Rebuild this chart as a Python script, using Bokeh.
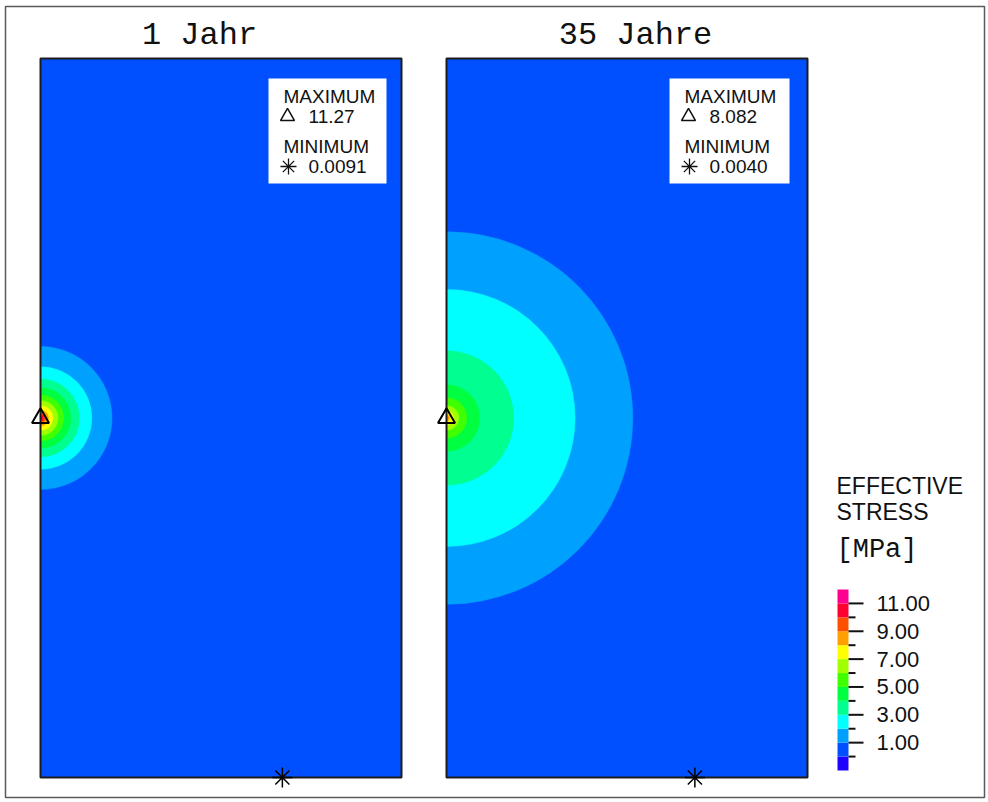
import math
from bokeh.plotting import figure
from bokeh.models import Range1d, ColumnDataSource
from bokeh.core.properties import value
from bokeh.embed import file_html
from bokeh.resources import INLINE

# ---------------- data ----------------
titles = ["1 Jahr", "35 Jahre"]

# colour bands of the scale (lower bound of each band, MPa)
band_low = [-1, 0, 1, 2, 3, 4, 5, 6, 7, 8, 9, 10, 11]
band_colors = ["#2000ff", "#0050ff", "#00a0ff", "#00ffff", "#00ff90", "#00ff40",
               "#40ff00", "#a0ff00", "#ffff00", "#ffa000", "#ff5000", "#ff0030", "#ff0090"]
tick_values = [0, 1, 2, 3, 4, 5, 6, 7, 8, 9, 10, 11]
label_values = [1, 3, 5, 7, 9, 11]
label_texts = ["1.00", "3.00", "5.00", "7.00", "9.00", "11.00"]

# contour levels (stress >= level) and their radius around the source (model units)
ring_levels_1 = [1, 2, 3, 4, 5, 6, 7, 8, 9, 10]
ring_radii_1 = [9.9, 7.1, 5.4, 4.2, 3.2, 2.4, 1.7, 1.1, 0.7, 0.4]
ring_levels_2 = [1, 2, 3, 4, 5, 6, 7, 8]
ring_radii_2 = [25.8, 17.8, 9.3, 4.6, 2.8, 1.7, 1.0, 0.4]

max_values = ["11.27", "8.082"]
min_values = ["0.0091", "0.0040"]
max_loc_x = [0.0, 0.0]
max_loc_y = [50.0, 50.0]
min_loc_x = [33.5, 34.4]
min_loc_y = [0.0, 0.0]

domain_w, domain_h = 50.0, 100.0
source_x, source_y = 0.0, 50.0

# ---------------- layout (canvas pixels) ----------------
W, H = 986, 800
panels = [(40, 58, 401, 777), (446, 58, 807, 777)]  # left, top, right, bottom
title_x = [199, 635]
title_mid = 35
legend_boxes = [(268, 78, 386, 183), (669, 78, 789, 183)]

p = figure(width=W, height=H, x_range=Range1d(0, W), y_range=Range1d(H, 0),
           output_backend="svg", toolbar_location=None, min_border=0,
           x_axis_type=None, y_axis_type=None, outline_line_color=None,
           background_fill_color="white", border_fill_color="white")
p.grid.visible = False

# outer frame of the picture
p.quad(left=[5], right=[984], top=[6], bottom=[797], fill_color=None,
       line_color="#5a5a5a", line_width=1.5)

ring_sets = [(ring_levels_1, ring_radii_1), (ring_levels_2, ring_radii_2)]

for i, (l, t, r, b) in enumerate(panels):
    sx = (r - l) / domain_w
    sy = (b - t) / domain_h
    xn, yn = f"p{i}x", f"p{i}y"
    p.extra_x_ranges[xn] = Range1d(-l / sx, (W - l) / sx)
    p.extra_y_ranges[yn] = Range1d(-(H - b) / sy, domain_h + t / sy)

    # background band (0-1 MPa)
    p.quad(left=[0], right=[domain_w], bottom=[0], top=[domain_h],
           fill_color=band_colors[1], line_color=None,
           x_range_name=xn, y_range_name=yn)
    levels, radii = ring_sets[i]
    src = ColumnDataSource(dict(
        x=[source_x] * len(levels), y=[source_y] * len(levels), r=radii,
        c=[band_colors[band_low.index(lv)] for lv in levels]))
    p.wedge(x="x", y="y", radius="r", start_angle=-math.pi / 2, end_angle=math.pi / 2,
            fill_color="c", line_color="c", line_width=0.5, source=src,
            x_range_name=xn, y_range_name=yn)
    # border
    p.quad(left=[0], right=[domain_w], bottom=[0], top=[domain_h],
           fill_color=None, line_color="#1c1c1c", line_width=2,
           x_range_name=xn, y_range_name=yn)
    # max / min markers
    p.scatter(x=[max_loc_x[i]], y=[max_loc_y[i]], marker="triangle", size=17,
              fill_color=None, line_color="black", line_width=2,
              x_range_name=xn, y_range_name=yn)
    p.scatter(x=[min_loc_x[i]], y=[min_loc_y[i]], marker="asterisk", size=20,
              line_color="black", line_width=1.5,
              x_range_name=xn, y_range_name=yn)

    # title
    p.text(x=[title_x[i]], y=[title_mid], text=[titles[i]],
           text_font=value("Liberation Mono"), text_font_size="32px",
           text_align="center", text_baseline="middle", text_color="#111111")

    # legend box
    bl, bt, br, bb = legend_boxes[i]
    p.quad(left=[bl], right=[br], top=[bt], bottom=[bb], fill_color="white", line_color=None)
    tx = bl + 15
    p.text(x=[tx, tx + 25, tx, tx + 25], y=[bt + 17.5, bt + 38, bt + 67.5, bt + 87.5],
           text=["MAXIMUM", max_values[i], "MINIMUM", min_values[i]],
           text_font=value("Liberation Sans"), text_font_size="19px",
           text_baseline="middle", text_color="#111111")
    p.scatter(x=[tx + 4], y=[bt + 38], marker="triangle", size=14,
              fill_color=None, line_color="#111111", line_width=1.5)
    p.scatter(x=[tx + 5], y=[bt + 88], marker="asterisk", size=16,
              line_color="#111111", line_width=1.3)

# ---------------- colour scale ----------------
cb_top_px, cb_bot_px = 589, 770
unit = (cb_bot_px - cb_top_px) / len(band_low)
v_lo, v_hi = band_low[0], band_low[-1] + 1
p.extra_y_ranges["cb"] = Range1d(v_lo - (H - cb_bot_px) / unit, v_hi + cb_top_px / unit)
p.quad(left=837, right=848, bottom=band_low, top=[v + 1 for v in band_low],
       fill_color=band_colors, line_color=None, y_range_name="cb")
p.segment(x0=[848] * len(tick_values),
          x1=[863 if t in label_values else 855 for t in tick_values],
          y0=tick_values, y1=tick_values, line_color="#111111", line_width=2,
          y_range_name="cb")
p.text(x=[876] * len(label_values), y=label_values, text=label_texts,
       text_font=value("Liberation Sans"), text_font_size="22px",
       text_baseline="middle", text_color="#111111", y_range_name="cb")

p.text(x=[836, 836], y=[485.5, 511], text=["EFFECTIVE", "STRESS"],
       text_font=value("Liberation Sans"), text_font_size="23px",
       text_baseline="middle", text_color="#111111")
p.text(x=[836], y=[549], text=["[MPa]"],
       text_font=value("Liberation Mono"), text_font_size="27px",
       text_baseline="middle", text_color="#111111")

open("out.html", "w").write(file_html(p, INLINE))
